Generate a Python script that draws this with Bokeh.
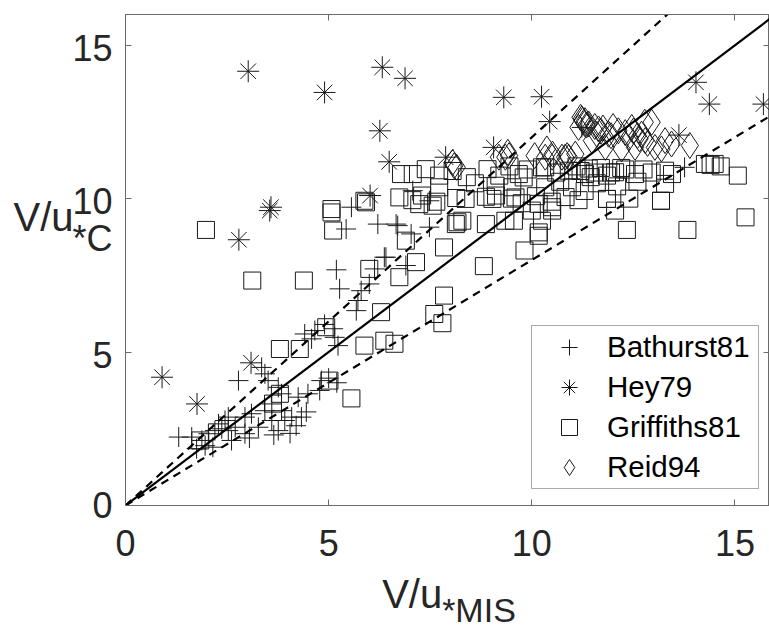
from bokeh.plotting import figure
from bokeh.models import Range1d, LinearAxis, Legend, LegendItem, FixedTicker
from bokeh.embed import file_html
from bokeh.resources import INLINE

# ---------------- data ----------------
bathurst_x = [1.31, 1.63, 1.88, 1.96, 1.75, 2.04, 2.20, 2.29, 2.45, 2.53, 2.61, 2.70, 2.94, 2.94,
              3.10, 3.27, 3.43, 3.60, 3.76, 3.84, 3.92, 4.09, 4.33, 4.25, 4.49, 3.60, 3.51, 3.43,
              2.78, 3.35, 3.76, 4.58, 2.53, 2.37, 2.15, 3.05, 3.65, 4.05, 4.45, 4.20, 3.84, 4.82,
              4.78, 5.00, 5.20, 4.41, 4.66, 5.11, 5.15, 5.23, 4.90, 5.19, 5.27, 6.37, 6.13, 6.00,
              5.80, 5.72, 5.68, 6.90, 5.56, 5.43, 6.21, 6.70, 7.03, 7.07, 7.48, 7.48, 6.66, 6.41,
              11.23, 13.76]
bathurst_y = [2.23, 2.23, 2.12, 1.95, 1.85, 2.34, 2.44, 2.66, 2.77, 2.44, 2.12, 2.55, 2.34, 2.88,
              2.99, 2.55, 3.09, 2.77, 2.44, 3.09, 2.77, 2.88, 2.88, 3.53, 3.64, 3.31, 4.07, 4.29,
              4.07, 4.50, 3.85, 5.43, 2.88, 2.50, 1.90, 2.20, 2.30, 2.35, 3.05, 2.60, 3.64, 4.07,
              3.75, 4.15, 4.00, 5.59, 5.70, 5.76, 5.48, 5.21, 5.90, 7.68, 7.06, 8.09, 7.71, 7.22,
              7.00, 6.68, 6.35, 7.82, 9.72, 9.01, 9.17, 9.12, 8.85, 10.26, 9.93, 9.07, 9.17, 8.09,
              12.32, 11.02]

hey_x = [0.90, 1.76, 3.09, 2.79, 3.58, 3.55, 6.02, 3.02, 4.90, 6.32, 6.88, 6.26, 6.49, 7.88,
         9.06, 9.31, 10.24, 10.44, 14.04, 14.37, 15.70, 13.62]
hey_y = [4.18, 3.31, 4.65, 8.66, 9.72, 9.61, 10.10, 14.15, 13.46, 14.28, 13.92, 12.21, 11.20, 11.35,
         11.67, 13.30, 13.32, 12.51, 13.79, 13.08, 13.08, 12.07]

griffiths_x = [1.84, 3.63, 3.80, 5.56, 5.02, 3.80, 4.29, 4.94, 5.88, 6.37, 6.62, 1.98, 3.12, 4.39,
               5.07, 5.11, 5.92, 6.00, 6.74, 7.15, 6.29, 7.84, 7.60, 7.80, 6.90, 7.84, 8.82, 9.82,
               10.17, 12.34, 13.83, 15.26, 12.05, 11.85, 13.18, 10.50, 10.25, 8.13, 8.87, 9.56,
               10.17, 13.28, 9.52, 5.07, 5.88,
               6.78, 7.07, 7.39, 7.72, 8.05, 8.40, 8.91, 9.20, 9.45, 9.68, 9.90, 10.25, 10.33,
               10.60, 10.91, 11.10, 11.31, 11.40, 11.55, 11.70, 11.85, 12.05, 12.20, 12.54, 12.75,
               12.95, 13.28, 13.45, 14.26, 14.40, 14.50, 14.65, 15.07,
               7.72, 9.11, 9.80, 10.33, 10.99, 11.60, 12.10, 12.60, 11.30, 8.60, 10.70,
               6.74, 7.06, 7.30, 7.65, 8.14, 8.37, 8.87, 9.03, 9.12, 9.51, 9.60, 9.75, 10.10,
               10.49, 10.83, 11.15, 11.85, 12.40, 13.18,
               7.23, 7.56, 8.17, 8.29, 9.35, 10.00, 10.50, 10.17, 11.20, 11.45, 11.95, 12.30]
griffiths_y = [2.12, 3.32, 3.64, 3.49, 4.07, 5.10, 5.10, 5.81, 5.21, 5.37, 5.27, 8.98, 7.33, 7.33,
               9.66, 8.96, 9.88, 7.71, 7.44, 7.93, 6.30, 6.84, 6.24, 5.94, 8.63, 8.41, 7.80, 8.31,
               8.79, 8.98, 8.98, 9.39, 9.61, 9.99, 9.93, 9.72, 9.28, 9.17, 9.17, 9.28,
               9.83, 10.48, 10.37, 9.55, 9.93,
               10.80, 10.80, 10.96, 10.75, 10.90, 10.70, 10.96, 10.75, 11.05, 10.80, 10.95, 11.02, 11.02,
               10.85, 10.91, 11.05, 10.80, 10.98, 10.85, 11.00, 10.75, 10.86, 11.00, 10.80, 10.95,
               10.85, 10.91, 10.80, 11.13, 11.10, 11.13, 11.05, 10.75,
               10.37, 10.42, 10.69, 10.37, 10.37, 10.50, 10.40, 10.55, 10.25, 10.50, 10.55,
               10.04, 9.95, 10.10, 9.90, 10.02, 9.99, 10.06, 9.99, 10.10, 10.00, 10.04, 9.85, 10.08,
               9.90, 10.05, 9.95, 9.99, 10.00, 9.93,
               9.82, 9.77, 9.23, 9.28, 9.28, 9.61, 9.61, 8.90, 10.90, 10.70, 10.85, 10.95]

reid_x = [8.05, 8.15, 8.09, 9.19, 9.35, 9.41, 9.44, 10.07, 10.33, 10.37, 10.50, 10.51, 10.74, 10.82,
          10.87, 10.91, 11.07, 11.15, 11.23, 11.31, 11.40, 11.48, 11.64, 11.81, 11.89, 12.13, 12.21,
          12.46, 12.54, 12.70, 12.78, 12.79, 12.95, 13.03, 13.19, 13.28, 13.44, 13.89, 11.30, 11.35,
          11.55, 11.70, 11.75, 11.95, 12.00, 12.30, 12.40, 12.60, 12.65, 12.50, 11.25, 11.60, 12.85,
          11.20]
reid_y = [11.18, 11.02, 11.07, 11.35, 11.35, 11.51, 11.40, 11.40, 11.35, 11.62, 11.35, 11.45, 11.35, 11.35,
          11.40, 11.35, 11.45, 12.32, 12.60, 12.54, 12.43, 11.89, 12.27, 11.67, 12.10, 12.21, 11.62,
          12.32, 11.67, 12.10, 12.49, 11.89, 12.49, 11.67, 11.62, 11.89, 11.78, 11.73, 12.45, 12.40,
          12.35, 12.20, 12.30, 12.05, 12.35, 12.15, 12.00, 12.05, 11.95, 12.20, 12.55, 12.10, 11.80,
          12.65]

series_names = ["Bathurst81", "Hey79", "Griffiths81", "Reid94"]
ref_slopes = [1.0, 1.2, 0.8]
x_ticks = [0, 5, 10, 15]
y_ticks = [0, 5, 10, 15]
x_lim = (0, 15.85)
y_lim = (0, 16)
x_title = ("V/u", "*MIS")
y_title = ("V/u", "*C")

# ---------------- figure ----------------
FONT = "Liberation Sans"
TXT = "#262626"
AX = "#6a6a6a"

p = figure(width=769, height=634, x_range=Range1d(*x_lim), y_range=Range1d(*y_lim),
           output_backend="svg", toolbar_location=None,
           x_axis_location=None, y_axis_location=None,
           min_border_left=125, min_border_right=0, min_border_top=14, min_border_bottom=129)
p.background_fill_color = "white"
p.border_fill_color = "white"
p.grid.visible = False
p.outline_line_color = AX
p.outline_line_width = 1


def tick_axis(ticks, line=True):
    """Axis that draws only inward tick marks (labels invisible)."""
    return LinearAxis(ticker=FixedTicker(ticks=ticks), major_tick_in=6, major_tick_out=0,
                      minor_tick_in=0, minor_tick_out=0,
                      axis_line_color=AX if line else None, major_tick_line_color=AX,
                      major_label_text_font_size="1px", major_label_text_color=None,
                      major_label_standoff=0)


def text_axis(ticks, overrides, size, standoff):
    """Axis that draws only text at the given positions."""
    return LinearAxis(ticker=FixedTicker(ticks=ticks), major_label_overrides=overrides,
                      major_tick_in=0, major_tick_out=0, minor_tick_in=0, minor_tick_out=0,
                      axis_line_color=None, major_tick_line_color=None,
                      major_label_text_font=FONT, major_label_text_font_size=size,
                      major_label_text_color=TXT, major_label_standoff=standoff)


# frame ticks on all four sides
p.add_layout(tick_axis(x_ticks), "above")
p.add_layout(tick_axis(y_ticks, line=False), "right")

# bottom: tick labels, then the title "V/u" with a lower, smaller subscript "*MIS"
x_lab = LinearAxis(ticker=FixedTicker(ticks=x_ticks), major_tick_in=6, major_tick_out=0,
                   minor_tick_in=0, minor_tick_out=0, axis_line_color=AX,
                   major_tick_line_color=AX, major_label_text_font=FONT,
                   major_label_text_font_size="36px", major_label_text_color=TXT,
                   major_label_standoff=24)
p.add_layout(x_lab, "below")
xv_pos, xs_pos = 7.056, 8.70
p.add_layout(text_axis([xv_pos], {xv_pos: x_title[0]}, "40px", 13), "below")
p.add_layout(text_axis([xs_pos], {xs_pos: x_title[1]}, "34px", -28), "below")

# left: ticks, tick labels (set slightly low, as in the reference) + subscript "*C", then "V/u"
y_shift = 0.1
y_label_pos = [t - y_shift if t > 0 else t for t in y_ticks]
y_over = {pos: str(t) for pos, t in zip(y_label_pos, y_ticks)}
yc_pos, yv_pos = 8.70, 9.394
y_over[yc_pos] = y_title[1]
p.add_layout(tick_axis(y_ticks), "left")
p.add_layout(text_axis(y_label_pos + [yc_pos], y_over, "36px", 13), "left")
p.add_layout(text_axis([yv_pos], {yv_pos: y_title[0]}, "40px", -4), "left")

MC = "#1a1a1a"
r_b = p.scatter(bathurst_x, bathurst_y, marker="cross", size=20, line_color=MC, line_width=1)
r_h = p.scatter(hey_x, hey_y, marker="asterisk", size=22, line_color=MC, line_width=1)
r_g = p.scatter(griffiths_x, griffiths_y, marker="square", size=17, fill_color=None,
                line_color=MC, line_width=1)
r_r = p.scatter(reid_x, reid_y, marker="diamond", size=26, fill_color=None,
                line_color=MC, line_width=1)

line_styles = ["solid", "8 6", "8 6"]
for s, dash in zip(ref_slopes, line_styles):
    xs = [x_lim[0], x_lim[1] + 1]
    p.line(xs, [s * v for v in xs], line_color="black", line_width=2.2, line_dash=dash)

legend = Legend(items=[LegendItem(label=n, renderers=[r]) for n, r in
                       zip(series_names, [r_b, r_h, r_g, r_r])],
                location=(406, 16), orientation="vertical",
                glyph_width=72, glyph_height=40, label_height=40, spacing=0, padding=1,
                label_standoff=2, label_width=150, margin=0,
                label_text_font=FONT, label_text_font_size="29.5px", label_text_color="black",
                border_line_color="#555555", border_line_width=1,
                background_fill_color="white", background_fill_alpha=1)
p.add_layout(legend, "center")

open("out.html", "w").write(file_html(p, INLINE))
